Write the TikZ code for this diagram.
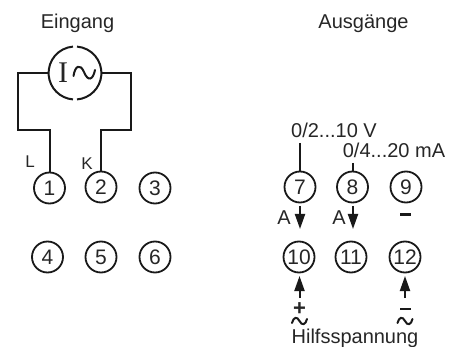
\documentclass[tikz,border=0pt]{standalone}
\usepackage{fontspec}
\setmainfont{Liberation Sans}
\newfontfamily\serfont{Liberation Serif}
\usetikzlibrary{arrows.meta}
\tikzset{x=1pt,y=-1pt,
 term/.style={circle,draw=black!90,line width=1.8pt,minimum size=31pt,inner sep=0pt,font=\fontsize{21}{21}\selectfont,text=black!85},
 txt/.style={inner sep=0pt,font=\fontsize{20}{20}\selectfont,text=black!85},
 small/.style={inner sep=0pt,font=\fontsize{17}{17}\selectfont,text=black!85},
 wire/.style={line width=2pt,draw=black!90,line join=miter},
 arr/.style={line width=2pt,draw=black!90,-{Triangle[length=15pt,width=10pt]}},
 tildeline/.style={line width=2pt,draw=black!90,line cap=round}}
\begin{document}
\begin{tikzpicture}
\useasboundingbox (0,0) rectangle (449,347);
\node[txt,anchor=base] (ein) at (77.5,28.5) {Eingang};
\node[txt,anchor=base] (aus) at (363.5,28.5) {Ausgänge};
% source
\draw[wire] (77,46.6) arc (-85.5:85.5:26.5);
\draw[wire] (73,46.6) arc (265.5:94.5:26.5);
\node[inner sep=0pt,font=\serfont\fontsize{30}{30}\selectfont,text=black!85] (isym) at (63,73) {I};
\draw[tildeline] (73.5,76) .. controls (75,66) and (80,63) .. (84,72) .. controls (88,82) and (93,80) .. (95,70);
\foreach \n/\x/\y in {1/49.5/188,2/101/187,3/155/188,4/47.5/257,5/101/257,6/155/257,7/300/187,8/352.5/187,9/406/187,10/299/257,11/351/257,12/405/257}
  \node[term] (t\n) at (\x,\y) {\n};
\coordinate (l0) at (49,73);
\coordinate (r0) at (101.5,73);
\draw[wire] (l0) -- (18,73) -- (18,130) -- (49.5,130) -- (t1.north);
\draw[wire] (r0) -- (131,73) -- (131,130) -- (101,130) -- (t2.north);
\node[small,anchor=base] (lL) at (30,168) {L};
\node[small,anchor=base] (lK) at (87,170) {K};
% outputs
\coordinate (v7) at (300,143);
\coordinate (v8) at (352.5,163);
\draw[wire] (v7) -- (t7.north);
\draw[wire] (v8) -- (t8.north);
\node[txt,anchor=base] (v10) at (334,138) {0/2...10 V};
\node[txt,anchor=base] (ma20) at (394,158) {0/4...20 mA};
\coordinate (a7s) at (300,206);
\coordinate (a7e) at (300,229);
\coordinate (a8s) at (353,206);
\coordinate (a8e) at (353,229);
\draw[arr] (a7s) -- (a7e);
\draw[arr] (a8s) -- (a8e);
\node[txt,anchor=base] (A1) at (284,225) {A};
\node[txt,anchor=base] (A2) at (339,225) {A};
\draw[wire,line width=2.4pt] (400,214.5) -- (411,214.5);
\coordinate (a10s) at (299.5,298);
\coordinate (a10e) at (299.5,276);
\coordinate (a12s) at (405,298);
\coordinate (a12e) at (405,276);
\draw[arr] (a10s) -- (a10e);
\draw[arr] (a12s) -- (a12e);
\node[txt,font=\bfseries\fontsize{22}{22}\selectfont] (plus) at (299.5,309) {+};
\draw[wire,line width=2.4pt] (400,309) -- (411,309);
\draw[tildeline] (292,323) .. controls (293.5,317) and (297,316) .. (299.5,321) .. controls (302,326) and (305.5,325) .. (307,319);
\draw[tildeline] (397.5,323) .. controls (399,317) and (402.5,316) .. (405,321) .. controls (407.5,326) and (411,325) .. (412.5,319);
\node[txt,anchor=base] (hilf) at (355,343) {Hilfsspannung};
\end{tikzpicture}
\end{document}
